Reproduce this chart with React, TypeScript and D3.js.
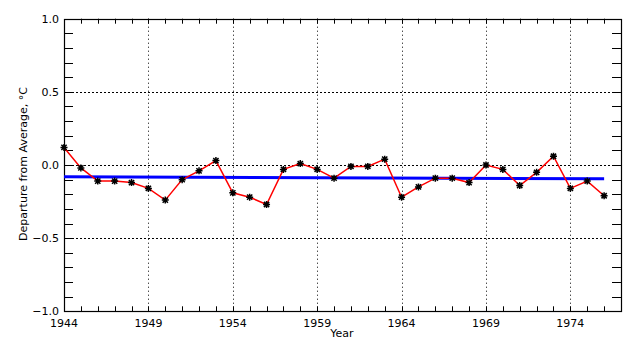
import React, { useEffect, useRef } from 'react';
import * as d3 from 'd3';

// annual departures from average, deg C
const years = [
  1944, 1945, 1946, 1947, 1948, 1949, 1950, 1951, 1952, 1953, 1954,
  1955, 1956, 1957, 1958, 1959, 1960, 1961, 1962, 1963, 1964, 1965,
  1966, 1967, 1968, 1969, 1970, 1971, 1972, 1973, 1974, 1975, 1976,
];
const departures = [
  0.12, -0.02, -0.11, -0.11, -0.12, -0.16, -0.24, -0.1, -0.04, 0.03, -0.19,
  -0.22, -0.27, -0.03, 0.01, -0.03, -0.09, -0.01, -0.01, 0.04, -0.22, -0.15,
  -0.09, -0.09, -0.12, 0.0, -0.03, -0.14, -0.05, 0.06, -0.16, -0.11, -0.21,
];
const trendYears = [1944, 1976];
const trendValues = [-0.08, -0.094];
const xTickLabels = [1944, 1949, 1954, 1959, 1964, 1969, 1974];
const yTickLabels = [1.0, 0.5, 0.0, -0.5, -1.0];
const yGridValues = [0.5, 0.0, -0.5];

const App = () => {
  const ref = useRef<SVGSVGElement>(null);

  useEffect(() => {
    const svg = d3.select(ref.current);
    svg.selectAll('*').remove();

    const left = 64, right = 621, top = 18.7, bottom = 311.3;
    const font = '"DejaVu Sans", Arial, sans-serif';

    const x = d3.scaleLinear().domain([1944, 1977]).range([left, right]);
    const y = d3.scaleLinear().domain([-1, 1]).range([bottom, top]);

    svg.append('rect').attr('width', 640).attr('height', 350).attr('fill', '#fff');

    // grid
    svg.append('g')
      .selectAll('line')
      .data(yGridValues)
      .join('line')
      .attr('x1', left).attr('x2', right)
      .attr('y1', d => Math.round(y(d)) + 0.5).attr('y2', d => Math.round(y(d)) + 0.5)
      .attr('stroke', '#000').attr('stroke-dasharray', '2,2');

    svg.append('g')
      .selectAll('line')
      .data(xTickLabels.slice(1))
      .join('line')
      .attr('x1', d => Math.round(x(d)) + 0.5).attr('x2', d => Math.round(x(d)) + 0.5)
      .attr('y1', top).attr('y2', bottom)
      .attr('stroke', '#000').attr('stroke-dasharray', '1,3');

    // minor ticks
    const yMinor = d3.range(-9, 10).map(i => i / 10);
    const xMinor = d3.range(1945, 1977);
    const ticks = svg.append('g').attr('stroke', '#000').attr('stroke-width', 1);
    ticks.selectAll('.yl').data(yMinor).join('line').attr('class', 'yl')
      .attr('x1', left).attr('x2', left + 9)
      .attr('y1', d => Math.round(y(d)) + 0.5).attr('y2', d => Math.round(y(d)) + 0.5);
    ticks.selectAll('.yr').data(yMinor).join('line').attr('class', 'yr')
      .attr('x1', right - 9).attr('x2', right)
      .attr('y1', d => Math.round(y(d)) + 0.5).attr('y2', d => Math.round(y(d)) + 0.5);
    ticks.selectAll('.xb').data(xMinor).join('line').attr('class', 'xb')
      .attr('x1', d => Math.round(x(d)) + 0.5).attr('x2', d => Math.round(x(d)) + 0.5)
      .attr('y1', bottom - 5).attr('y2', bottom);
    ticks.selectAll('.xt').data(xMinor).join('line').attr('class', 'xt')
      .attr('x1', d => Math.round(x(d)) + 0.5).attr('x2', d => Math.round(x(d)) + 0.5)
      .attr('y1', top).attr('y2', top + 5);

    // frame
    svg.append('rect')
      .attr('x', left + 0.5).attr('y', Math.round(top) + 0.5)
      .attr('width', right - left).attr('height', Math.round(bottom) - Math.round(top))
      .attr('fill', 'none').attr('stroke', '#000').attr('stroke-width', 1.2);

    // trend line
    const trend = trendYears.map((yr, i) => [yr, trendValues[i]] as [number, number]);
    svg.append('path')
      .datum(trend)
      .attr('d', d3.line<[number, number]>().x(d => x(d[0])).y(d => y(d[1])))
      .attr('fill', 'none').attr('stroke', '#0000ff').attr('stroke-width', 3);

    // data line
    const pts = years.map((yr, i) => [yr, departures[i]] as [number, number]);
    svg.append('path')
      .datum(pts)
      .attr('d', d3.line<[number, number]>().x(d => x(d[0])).y(d => y(d[1])))
      .attr('fill', 'none').attr('stroke', '#ff0000').attr('stroke-width', 1.5);

    // asterisk markers
    const r = 3.5;
    const star = `M${-r},0L${r},0M0,${-r}L0,${r}M${-r * 0.75},${-r * 0.75}L${r * 0.75},${r * 0.75}M${-r * 0.75},${r * 0.75}L${r * 0.75},${-r * 0.75}`;
    svg.append('g')
      .selectAll('path')
      .data(pts)
      .join('path')
      .attr('transform', d => `translate(${x(d[0])},${y(d[1])})`)
      .attr('d', star)
      .attr('stroke', '#000').attr('stroke-width', 1.5);

    // labels
    svg.append('g')
      .selectAll('text')
      .data(yTickLabels)
      .join('text')
      .attr('x', 59).attr('y', d => y(d) + 4)
      .attr('text-anchor', 'end')
      .attr('font-family', font).attr('font-size', 11)
      .text(d => (d < 0 ? '\u2212' : '') + Math.abs(d).toFixed(1));

    svg.append('g')
      .selectAll('text')
      .data(xTickLabels)
      .join('text')
      .attr('x', d => x(d)).attr('y', 327)
      .attr('text-anchor', 'middle')
      .attr('font-family', font).attr('font-size', 11)
      .text(d => d);

    svg.append('text')
      .attr('x', 342).attr('y', 337)
      .attr('text-anchor', 'middle')
      .attr('font-family', font).attr('font-size', 11)
      .text('Year');

    svg.append('text')
      .attr('transform', `translate(27,164) rotate(-90)`)
      .attr('text-anchor', 'middle')
      .attr('font-family', font).attr('font-size', 11)
      .text('Departure from Average, \u00b0C');
  }, []);

  return (
    <div style={{ position: 'fixed', left: 0, top: 0 }}>
      <svg ref={ref} width={640} height={350} style={{ display: 'block' }} />
    </div>
  );
};

export default App;
